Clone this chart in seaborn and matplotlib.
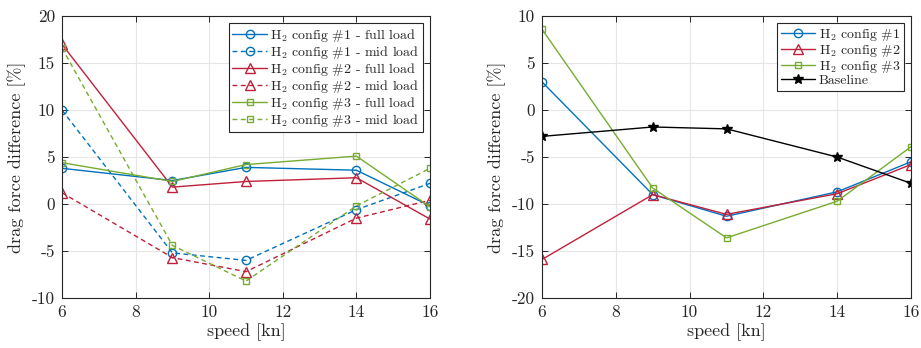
import matplotlib
matplotlib.use("Agg")
import matplotlib.pyplot as plt
import seaborn as sns

sns.set_theme(style="white")
plt.rcParams['font.family'] = ['cmr10', 'DejaVu Serif']
plt.rcParams['mathtext.fontset'] = 'cm'
plt.rcParams['axes.unicode_minus'] = False
plt.rcParams['axes.formatter.use_mathtext'] = False

speed = [6, 9, 11, 14, 16]

# left panel
c1_full = [3.8, 2.5, 3.9, 3.6, -0.2]
c1_mid = [10.0, -5.2, -6.0, -0.6, 2.2]
c2_full = [17.0, 1.8, 2.4, 2.8, -1.6]
c2_mid = [1.2, -5.7, -7.2, -1.5, 0.4]
c3_full = [4.4, 2.4, 4.2, 5.1, -0.3]
c3_mid = [16.6, -4.4, -8.2, -0.2, 3.8]

# right panel
r_c1 = [3.0, -9.0, -11.3, -8.7, -5.5]
r_c2 = [-15.9, -9.0, -11.1, -8.9, -5.8]
r_c3 = [8.6, -8.3, -13.6, -9.7, -3.9]
r_base = [-2.8, -1.8, -2.0, -5.0, -7.8]

left_labels = [r"H$_2$ config #1 - full load", r"H$_2$ config #1 - mid load",
               r"H$_2$ config #2 - full load", r"H$_2$ config #2 - mid load",
               r"H$_2$ config #3 - full load", r"H$_2$ config #3 - mid load"]
right_labels = [r"H$_2$ config #1", r"H$_2$ config #2", r"H$_2$ config #3", "Baseline"]

BLUE = '#0072BD'
RED = '#C0203A'
GREEN = '#77AC30'
BLACK = '#000000'
DASH = (0, (3.5, 2.5))

fig = plt.figure(figsize=(9.21, 3.48), dpi=100)
axL = fig.add_axes([0.0673, 0.1437, 0.3996, 0.810])
axR = fig.add_axes([0.5885, 0.1437, 0.4007, 0.810])

def msize(mk):
    return {'o': 6, '^': 6.5, 's': 5, '*': 7}[mk]

left_series = [
    (c1_full, BLUE, 'o', '-'), (c1_mid, BLUE, 'o', DASH),
    (c2_full, RED, '^', '-'), (c2_mid, RED, '^', DASH),
    (c3_full, GREEN, 's', '-'), (c3_mid, GREEN, 's', DASH),
]
for (vals, col, mk, ls), lab in zip(left_series, left_labels):
    sns.lineplot(x=speed, y=vals, ax=axL, color=col, marker=mk, linestyle=ls,
                 markerfacecolor='none', markeredgecolor=col, markeredgewidth=1.0,
                 markersize=msize(mk), linewidth=1.0, label=lab)

right_series = [
    (r_c1, BLUE, 'o'), (r_c2, RED, '^'), (r_c3, GREEN, 's'), (r_base, BLACK, '*'),
]
for (vals, col, mk), lab in zip(right_series, right_labels):
    sns.lineplot(x=speed, y=vals, ax=axR, color=col, marker=mk, linestyle='-',
                 markerfacecolor='none' if mk != '*' else col, markeredgecolor=col,
                 markeredgewidth=1.0, markersize=msize(mk),
                 linewidth=1.0, label=lab)

for ax, ylim, yt in [(axL, (-10, 20), [-10, -5, 0, 5, 10, 15, 20]),
                     (axR, (-20, 10), [-20, -15, -10, -5, 0, 5, 10])]:
    ax.set_xlim(6, 16)
    ax.set_ylim(*ylim)
    ax.set_xticks([6, 8, 10, 12, 14, 16])
    ax.set_yticks(yt)
    ax.grid(True, color='#e6e6e6', linewidth=0.8)
    ax.set_axisbelow(True)
    for s in ax.spines.values():
        s.set_color('#262626')
        s.set_linewidth(0.8)
    ax.tick_params(axis='both', direction='in', length=4, width=0.7, color='#262626',
                   labelsize=12.5, labelcolor='#262626', top=True, right=True,
                   bottom=True, left=True, pad=5)
    ax.set_xlabel('speed [kn]', fontsize=13, color='#262626', labelpad=2)
    ax.set_ylabel('drag force difference [%]', fontsize=13, color='#262626', labelpad=4)
    leg = ax.legend(loc='upper right', prop={'size': 10}, frameon=True, fancybox=False,
                    edgecolor='#262626', framealpha=1, handlelength=2.5,
                    handletextpad=0.25, borderpad=0.25, labelspacing=0.0,
                    borderaxespad=0.5)
    leg.get_frame().set_linewidth(0.8)

fig.savefig('out.png', dpi=100)
